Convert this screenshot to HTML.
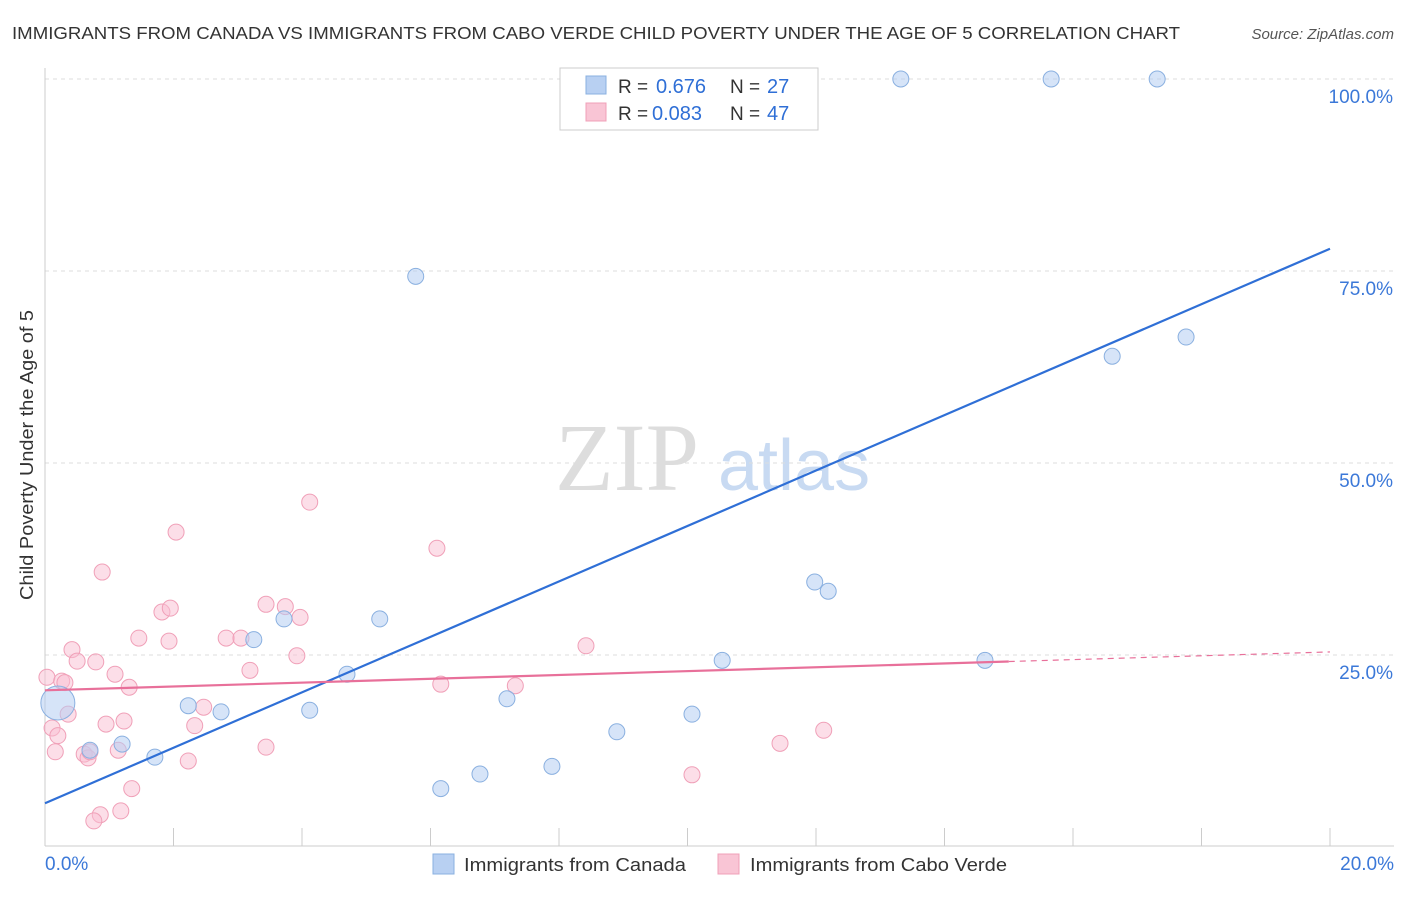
<!DOCTYPE html>
<html><head><meta charset="utf-8"><style>
body{margin:0;background:#fff;font-family:"Liberation Sans",sans-serif;}
</style></head><body>
<svg id="c" width="1406" height="892" xmlns="http://www.w3.org/2000/svg">
<text x="12" y="39" font-size="17.5" fill="#333" textLength="1168" lengthAdjust="spacingAndGlyphs">IMMIGRANTS FROM CANADA VS IMMIGRANTS FROM CABO VERDE CHILD POVERTY UNDER THE AGE OF 5 CORRELATION CHART</text>
<text x="1394" y="39" font-size="15" fill="#555" font-style="italic" text-anchor="end">Source: ZipAtlas.com</text>
<text x="0" y="0" transform="translate(33,600) rotate(-90)" font-size="18" fill="#333" textLength="290" lengthAdjust="spacingAndGlyphs">Child Poverty Under the Age of 5</text>
<g><text x="555" y="490" font-size="96" font-family="Liberation Serif" fill="#ddd">ZIP</text><text x="718" y="490" font-size="72" fill="#c8daf2">atlas</text></g>
<g id="grid"></g><g id="marks"></g>
<g>
<rect x="560" y="68" width="258" height="62" fill="#fff" stroke="#ccc"/>
<rect x="586" y="76" width="20" height="18" fill="#b8d0f2" stroke="#8ab0e0"/>
<text x="618" y="93" font-size="19" fill="#333">R =</text><text x="656" y="93" font-size="20" fill="#2f6fd6">0.676</text>
<text x="730" y="93" font-size="19" fill="#333">N =</text><text x="767" y="93" font-size="20" fill="#2f6fd6">27</text>
<rect x="586" y="103" width="20" height="18" fill="#f9c5d5" stroke="#f0a0b8"/>
<text x="618" y="120" font-size="19" fill="#333">R =</text><text x="652" y="120" font-size="20" fill="#2f6fd6">0.083</text>
<text x="730" y="120" font-size="19" fill="#333">N =</text><text x="767" y="120" font-size="20" fill="#2f6fd6">47</text>
</g>
<g>
<rect x="433" y="854" width="21" height="20" fill="#b8d0f2" stroke="#8ab0e0"/>
<text x="464" y="871" font-size="18" fill="#333" textLength="222" lengthAdjust="spacingAndGlyphs">Immigrants from Canada</text>
<rect x="718" y="854" width="21" height="20" fill="#f9c5d5" stroke="#f0a0b8"/>
<text x="750" y="871" font-size="18" fill="#333" textLength="257" lengthAdjust="spacingAndGlyphs">Immigrants from Cabo Verde</text>
</g>
</svg>
<script>
const xTicks=[0,20];
const yTicks=[25,50,75,100];
const canadaX=[0.20,0.70,1.20,1.71,2.23,2.74,3.25,3.72,4.12,4.70,5.21,5.77,6.16,6.77,7.19,7.89,8.90,10.07,10.54,11.98,12.19,13.32,14.63,15.66,16.61,17.31,17.76];
const canadaY=[18.75,12.6,13.4,11.7,18.4,17.6,27.0,29.7,17.8,22.5,29.7,74.3,7.6,9.5,19.3,10.5,15.0,17.3,24.3,34.5,33.3,100,24.3,100,63.9,100,66.4];
const caboX=[0.03,0.11,0.20,0.26,0.31,0.36,0.42,0.50,0.61,0.67,0.79,0.89,0.95,1.09,1.14,1.23,1.31,1.35,1.18,0.86,0.76,1.46,1.82,1.95,1.93,2.04,2.23,2.33,2.47,2.82,3.05,3.19,3.44,3.44,3.74,3.92,3.97,4.12,6.10,6.16,7.32,8.42,10.07,11.44,12.12,0.16,0.70];
const caboY=[22.1,15.5,14.5,21.6,21.4,17.3,25.7,24.2,12.1,11.6,24.1,35.8,16.0,22.5,12.6,16.4,20.8,7.6,4.7,4.2,3.4,27.2,30.6,31.1,26.8,41.0,11.2,15.8,18.2,27.2,27.2,23.0,31.6,13.0,31.3,24.9,29.9,44.9,38.9,21.2,21.0,26.2,9.4,13.5,15.2,12.4,12.4];
const canadaTrend=[5.7,77.9];
const caboTrend=[20.4,25.4];
const NS="http://www.w3.org/2000/svg";
const X=v=>45+v*64.25, Y=v=>847-v*7.68;
function mk(t,a,p){const e=document.createElementNS(NS,t);for(const k in a)e.setAttribute(k,a[k]);p.appendChild(e);return e;}
const g=document.getElementById('grid'), m=document.getElementById('marks');
yTicks.forEach(t=>{const l=mk('line',{x1:45,x2:1394,y1:Y(t),y2:Y(t),stroke:'#ddd','stroke-dasharray':'4,4'},g);

const tx=mk('text',{x:1393,y:Y(t)+24,'font-size':19,fill:'#3b78d8','text-anchor':'end'},g);tx.textContent=t.toFixed(1)+'%';
});
const ax=mk('line',{x1:45,x2:1394,y1:846,y2:846,stroke:'#ccc'},g);

const ay=mk('line',{x1:45,x2:45,y1:68,y2:846,stroke:'#ccc'},g);

for(let i=0;i<=10;i++){const tk=mk('line',{x1:X(i*2),x2:X(i*2),y1:828,y2:846,stroke:'#ccc'},g);
}
xTicks.forEach((t,i)=>{const tx=mk('text',{x:i?1394:45,y:870,'font-size':19,fill:'#3b78d8','text-anchor':i?'end':'start'},g);tx.textContent=t.toFixed(1)+'%';
});
caboX.forEach((x,i)=>{const c=mk('circle',{cx:X(x),cy:Y(caboY[i]),r:8,fill:'rgba(249,190,210,0.5)',stroke:'#f0a0b8','stroke-width':1},m);
});
canadaX.forEach((x,i)=>{const c=mk('circle',{cx:X(x),cy:Y(canadaY[i]),r:i==0?17:8,fill:'rgba(180,205,242,0.55)',stroke:'#8ab0e0','stroke-width':1},m);
});
const bl=mk('line',{x1:X(0),y1:Y(canadaTrend[0]),x2:X(20),y2:Y(canadaTrend[1]),stroke:'#2f6fd6','stroke-width':2.2},m);

const py=x=>caboTrend[0]+(caboTrend[1]-caboTrend[0])*x/20;
const pl=mk('line',{x1:X(0),y1:Y(py(0)),x2:X(15),y2:Y(py(15)),stroke:'#e8709a','stroke-width':2.2},m);

const pd=mk('line',{x1:X(15),y1:Y(py(15)),x2:X(20),y2:Y(py(20)),stroke:'#e8709a','stroke-width':1.2,'stroke-dasharray':'6,5'},m);

</script>
</body></html>
